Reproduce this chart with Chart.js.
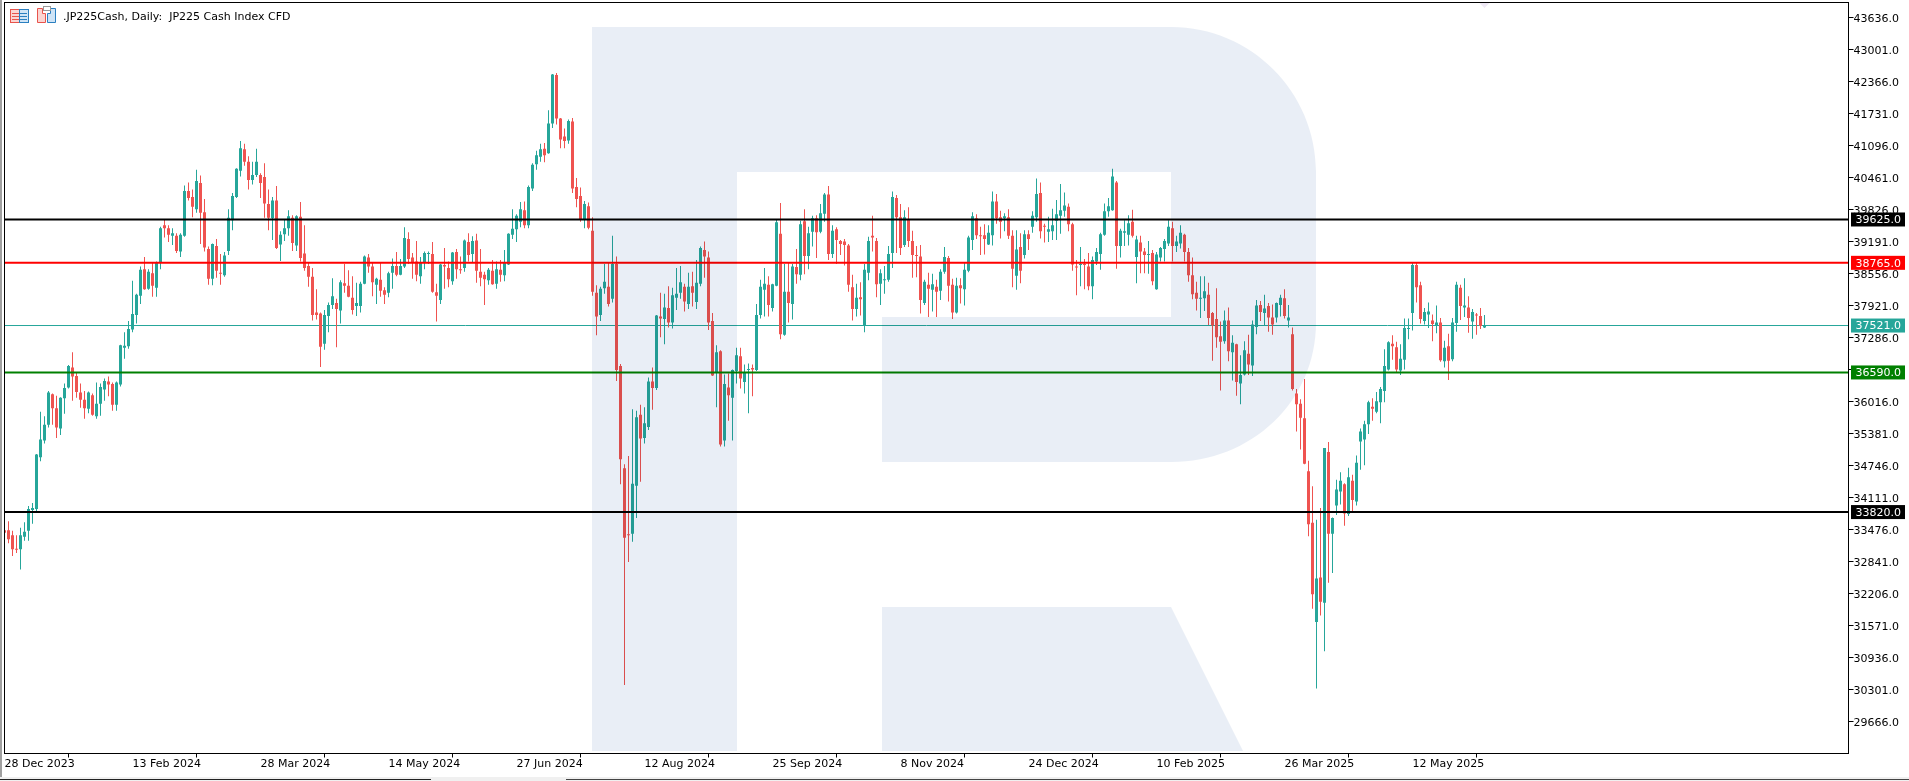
<!DOCTYPE html>
<html>
<head>
<meta charset="utf-8">
<title>JP225 Cash Index CFD</title>
<script src="https://cdn.jsdelivr.net/npm/chart.js@4"></script>
<style>
  html, body { margin: 0; padding: 0; background: #fff; overflow: hidden; }
  #wrap { position: relative; width: 1909px; height: 781px; }
  #chart { position: absolute; left: 0; top: 0; }
  #title { position: absolute; left: 63px; top: 10px; font: 11px "DejaVu Sans"; color: #000; white-space: pre; }
  #icons { position: absolute; left: 0; top: 0; }
  .edge { position: absolute; }
</style>
</head>
<body>
<div id="wrap">
  <canvas id="chart" width="1909" height="781"></canvas>
  <svg id="icons" width="70" height="30">
    <rect x="10.5" y="9.5" width="9" height="13" fill="#fbd5d2" stroke="#e8544c"/>
    <rect x="19.5" y="9.5" width="9" height="13" fill="#cfe4f6" stroke="#2a7fc0"/>
    <path d="M12 13.5h7M12 16.5h7M12 19.5h7" stroke="#e8544c"/>
    <path d="M20 13.5h7M20 16.5h7M20 19.5h7" stroke="#2a7fc0"/>
    <path d="M37.5 8.5h5v5h3v9h-8z" fill="#fbd5d2" stroke="#e8544c"/>
    <path d="M47.5 13.5h3v-5h5v14h-8z" fill="#cfe4f6" stroke="#2a7fc0"/>
    <rect x="43.5" y="6.5" width="7" height="4" fill="#fff" stroke="#999"/>
  </svg>
  <div id="title">.JP225Cash, Daily:  JP225 Cash Index CFD</div>
  <div class="edge" style="left:0;top:0;width:2px;height:781px;background:#a0a0a0"></div>
  <div class="edge" style="left:0;top:777px;width:1909px;height:4px;background:#f0f0f0"></div>
  <div class="edge" style="left:0;top:779px;width:431px;height:1px;background:#222"></div>
  <div class="edge" style="left:566px;top:779px;width:1343px;height:1px;background:#444"></div>
</div>
<script>
// JP225 daily candles
const highs = [
  33600,33640,33450,33360,33510,33620,33940,34000,34970,35810,
  35720,36220,36170,36130,36100,36370,36740,36990,36590,36370,
  36220,36210,36170,36390,36370,36470,36510,36390,36410,37140,
  37390,37610,38410,38150,38690,38880,38640,38770,38790,39480,
  39620,39510,39450,39350,39350,40300,40360,40220,40610,40500,
  40030,39090,39150,39240,38940,38980,39830,40150,40640,41180,
  41130,40880,40770,41030,40540,40740,40220,40070,40290,39390,
  39630,39810,39710,39710,39970,39510,38770,38660,38240,37780,
  37830,37980,38460,38050,38420,38740,38620,38500,38370,38390,
  38910,38940,38770,38470,38770,38280,38590,38850,38980,38840,
  39470,39370,38960,39200,38880,38990,38990,39180,38350,38740,
  39060,38790,38980,39040,38890,39230,39350,39290,39340,39040,
  38590,38660,38820,38790,38820,39020,39350,39830,39730,39970,
  39980,40300,40740,40990,41130,41140,41790,42510,42530,41640,
  41430,41610,41640,40450,40260,39990,39960,39670,38320,38290,
  38740,38770,39300,38890,36760,34770,34930,35860,35830,35950,
  35900,36490,36690,37730,38170,38150,38300,38270,38660,38700,
  38350,38570,38590,38820,39090,39190,38990,37770,37130,37030,
  36550,36570,36650,37080,37080,36750,36770,36750,37950,38430,
  38660,38500,38350,39630,39950,38740,38770,38740,39040,39600,
  39830,39480,39700,39710,39930,40150,40290,39510,39470,39220,
  39240,39140,38530,38350,38380,38740,39280,39700,39260,38640,
  38700,39100,40180,40110,39930,39810,39870,39400,39100,39120,
  38430,38570,38550,38430,38640,39080,38900,38450,38470,38460,
  38760,39300,39770,39730,39480,39530,39510,40180,40130,39800,
  39750,39830,39410,39410,39350,39410,39410,39790,40440,40360,
  39540,39680,39840,40010,40330,40160,39940,39560,38820,39080,
  38840,38960,38890,39060,39360,39940,40050,40630,40390,39440,
  39610,39710,39820,39300,39300,39060,39200,39020,38980,39080,
  39240,39610,39580,39300,39510,39340,39060,38870,38390,38500,
  38500,38370,37790,38260,37600,37820,37880,37330,37160,36930,
  37210,37340,37620,38030,38010,38130,37970,37940,37980,38130,
  38240,37930,37480,36260,36060,36460,34840,34330,33670,33900,
  35090,35210,33710,34460,34610,34390,34700,34560,34940,35480,
  35630,36030,36080,36200,36300,37050,37210,37330,37200,37150,
  37660,37660,38760,38760,38390,37870,37980,37740,37920,37670,
  37220,37360,37670,38390,38330,38460,38100,37850,37770,37870,37730
];
const lows = [
  33260,33200,32950,33010,32680,33250,33250,33590,33840,34830,
  35180,35500,35550,35290,35350,35770,36270,36030,36090,35890,
  35670,35780,35730,35670,35730,36030,36120,35830,35830,36310,
  36860,37060,37390,37560,37950,38230,38230,38090,38090,38640,
  39270,39180,39120,38960,38880,39280,40000,39670,39760,39140,
  38990,38330,38320,38470,38330,38490,38920,39410,40050,40480,
  40690,40220,40320,40470,40050,39660,39410,39220,39040,38800,
  39200,39300,39000,39000,38790,38610,38290,37620,37640,36700,
  37040,37390,37850,37090,37560,38170,38080,37740,37710,37780,
  38340,38570,38100,37950,38090,37950,38080,38250,38500,38520,
  38660,38740,38450,38400,38350,38640,38740,38170,37600,37950,
  38250,38280,38330,38450,38550,38590,38790,38770,38370,38300,
  37930,38330,38330,38250,38390,38400,38720,39240,39180,39470,
  39450,39450,40190,40610,40770,40760,40930,41440,41510,41040,
  41040,41130,40150,39870,39580,39450,39430,38110,37330,37610,
  38150,37900,37980,36420,34370,30390,32830,33230,33700,34420,
  35180,35450,35850,36240,37290,37150,37480,37460,37830,38050,
  37800,37850,37900,37850,38300,38470,37430,36520,35900,35120,
  35120,35630,35240,36370,36270,36170,35780,36120,36620,37660,
  37700,37700,37800,38300,37250,37320,37580,37640,38350,38420,
  38540,38640,39090,38860,39350,39580,38820,38860,38740,38920,
  38710,38190,37620,37700,37720,37390,38420,38990,38080,37930,
  38150,38390,38660,38960,38920,39080,39080,38470,38480,37760,
  37930,37690,37800,37690,38030,38550,38000,37650,37760,37960,
  37920,38580,39020,39240,38920,38930,39120,39110,39540,39250,
  39390,39240,38280,38230,38360,38850,39020,39360,39580,39250,
  39170,39180,39220,39220,39340,39680,39390,38610,38120,38300,
  38240,38220,38040,38720,38630,39300,39680,39800,38650,38870,
  39100,39110,39270,38360,38560,38560,38550,38320,38230,38790,
  38790,39100,38790,38980,39050,38790,38390,38040,37820,37670,
  37810,37530,36820,37080,36230,37160,36810,36430,36130,35960,
  36530,36540,36520,37350,37610,37530,37400,37340,37580,37700,
  37660,37480,36230,35420,35060,34770,33340,31900,30320,31770,
  31060,32420,32610,33760,33970,33550,33740,33820,33950,34660,
  34750,35370,35630,35780,35580,36000,36630,36840,36600,36540,
  36650,37250,37420,37980,37560,37540,37470,37210,37370,36800,
  36690,36440,36810,37400,37630,37690,37380,37260,37340,37450,37470
];
const opens = [
  33460,33460,33360,33090,33080,33330,33450,33860,33880,34910,
  35240,35550,36160,35880,35480,36080,36290,36690,36520,36190,
  36050,35870,36140,35720,35970,36250,36410,36360,35950,36350,
  37080,37110,37440,37730,38110,38640,38250,38560,38270,38780,
  39510,39450,39300,39300,38990,39300,40190,40070,39830,40350,
  39770,39040,38450,39100,38560,38520,39000,39610,40070,40590,
  41020,40770,40410,40510,40510,40470,39930,39650,40000,39130,
  39330,39450,39660,39110,39680,38950,38700,38490,37780,37760,
  37160,37710,37930,37970,37820,38360,38310,38070,37910,37910,
  38350,38870,38690,38330,38430,38220,38170,38570,38700,38530,
  38690,39240,38870,38790,38500,38770,38940,38940,38180,38030,
  38720,38660,38400,38980,38640,38660,39180,38940,39210,38590,
  38530,38420,38610,38350,38630,38520,38730,39320,39430,39580,
  39810,39510,40240,40720,40870,41030,40940,41530,42490,41630,
  41270,41190,41570,40270,40090,39630,39890,39400,38170,37730,
  38260,38290,38050,38740,36720,34690,33380,33390,34340,35750,
  35290,35510,36410,36280,37700,37650,37870,37580,38070,38170,
  38290,37950,38300,37990,38350,39020,38870,37610,36590,37010,
  35240,36290,36090,36620,36910,36400,36640,36680,36640,37730,
  38230,38330,37870,38310,39340,37340,38190,37950,38680,38530,
  39590,38900,39380,39650,39380,39740,40120,38940,39430,39200,
  39190,39110,38280,37850,38080,37520,38570,39300,39200,38350,
  38420,38430,38960,40050,39670,39120,39630,39200,38920,38890,
  37970,38330,38230,38290,38210,38590,38860,38330,37780,38320,
  38240,38610,39220,39650,39300,39310,39130,39310,39980,39670,
  39650,39670,39300,38510,39080,38920,39330,39480,39670,40150,
  39500,39380,39390,39600,39700,39800,39880,39530,38690,38720,
  38730,38690,38300,38790,38940,39320,39790,39810,40360,39100,
  39360,39320,39580,38880,39170,38990,38920,38960,38240,38870,
  39040,39150,39450,39100,39150,39320,38980,38520,38170,38050,
  38060,38130,37770,37650,37310,37210,37620,36990,37150,36370,
  36550,36960,36730,37490,37930,37770,37910,37680,37680,37930,
  38060,37620,37350,36170,35970,35680,34630,33610,31640,32520,
  32020,35010,33390,33950,34230,34370,33780,34440,34030,35220,
  35260,35560,35910,35810,36000,36220,36650,37160,37090,36630,
  36840,37450,37770,38720,38320,37610,37740,37620,37510,37580,
  36810,37110,36850,37570,38270,37880,37880,37600,37740,37710,37480
];
const closes = [
  33410,33280,33080,33070,33360,33430,33880,33900,34960,35260,
  35550,36190,35880,35500,36090,36280,36720,36510,36200,36050,
  35880,36190,35750,35970,36300,36420,36350,35950,36390,37130,
  37120,37450,37750,38130,38630,38240,38590,38310,38760,39450,
  39450,39320,39350,39000,39320,40190,40050,39880,40390,39760,
  39070,38450,39140,38610,38550,38910,39660,40090,40630,41040,
  40770,40410,40510,40770,40350,39940,39660,40000,39060,39320,
  39450,39690,39160,39690,38860,38660,38490,37730,37730,37100,
  37730,37930,38100,37850,38380,38310,38090,37830,37970,38350,
  38890,38690,38380,38450,38210,38130,38560,38700,38530,38700,
  39260,38840,38770,38530,38770,38960,38960,38190,38110,38730,
  38690,38440,38970,38640,38620,39210,38920,39200,38610,38470,
  38440,38630,38340,38640,38530,38770,39340,39440,39700,39830,
  39510,40270,40710,40900,41020,40900,41530,42500,41630,41210,
  41180,41580,40240,40030,39630,39930,39460,38190,37700,38250,
  38390,37950,38740,36640,34870,33310,33360,34380,35700,35280,
  35580,36410,36280,37720,37660,37880,37580,38120,38150,38380,
  38000,38290,38170,38370,39060,38890,37580,36530,36990,35160,
  36360,36140,36640,36930,36470,36590,36660,36650,37730,38290,
  38350,37930,38340,39570,37350,38190,37970,38690,38540,39530,
  38900,39350,39650,39370,39750,40120,38940,39400,39220,39140,
  39120,38330,37850,38070,38040,38630,39200,39270,38340,38560,
  38440,38940,40070,39670,39060,39670,39200,38920,38900,38030,
  38390,38250,38340,38190,38590,38880,38310,37780,38310,38260,
  38630,39270,39690,39310,39290,39240,39360,39980,39650,39580,
  39690,39300,38650,39030,38610,39330,39240,39700,40130,39390,
  39480,39430,39510,39730,39810,39900,39530,38730,38670,38730,
  38720,38300,38820,38980,39330,39790,39890,40480,39100,39400,
  39390,39550,39300,39230,38990,38920,38930,38400,38930,39060,
  39200,39480,39100,39190,39360,38980,38520,38140,38050,38070,
  38200,37670,37520,37290,37200,37620,37010,37180,36400,36540,
  37030,36750,37540,37920,37790,37860,37680,37540,37970,38070,
  37710,37680,36260,35960,35690,34780,33580,32190,32500,32040,
  35090,33390,33700,34270,34440,33790,34510,34060,34800,35420,
  35560,36000,35870,36020,36260,36720,37190,37110,36650,36860,
  37470,37470,38720,38280,37650,37790,37800,37550,37580,36830,
  37080,36820,37580,38330,37910,37920,37670,37790,37720,37510,37510
];

const dateLabels = ['28 Dec 2023','13 Feb 2024','28 Mar 2024','14 May 2024','27 Jun 2024','12 Aug 2024',
  '25 Sep 2024','8 Nov 2024','24 Dec 2024','10 Feb 2025','26 Mar 2025','12 May 2025'];
const priceTicks = [43636,43001,42366,41731,41096,40461,39826,39191,38556,37921,37286,36651,36016,
  35381,34746,34111,33476,32841,32206,31571,30936,30301,29666];

const levelValues = [39625, 38765, 36590, 33820, 37521];
const levelColors = ['#000000', '#ff0000', '#008000', '#000000', '#26a69a'];
const levelWidths = [2, 2, 2, 2, 1];

const UP = '#26a69a';
const DOWN = '#ef5350';
const FONT = { family: 'DejaVu Sans', size: 11 };
const candleColors = closes.map((c, i) => c >= opens[i] ? UP : DOWN);

const datasets = [
  {
    type: 'bar', label: 'wick', order: 3, barThickness: 1, grouped: false, inflateAmount: 0,
    data: highs.map((h, i) => ({ x: i, y: [lows[i], h] })),
    backgroundColor: candleColors
  },
  {
    type: 'bar', label: 'body', order: 2, barThickness: 3, grouped: false, inflateAmount: 0, minBarLength: 1,
    data: opens.map((o, i) => ({ x: i, y: [o, closes[i]] })),
    backgroundColor: candleColors
  }
];
levelValues.forEach((v, i) => {
  datasets.push({
    type: 'line', label: 'level ' + v,
    order: levelWidths[i] === 1 ? 4 : 1,
    data: [{ x: 0, y: v }, { x: 461, y: v }],
    borderColor: levelColors[i], borderWidth: levelWidths[i], pointRadius: 0
  });
});

// stops chart.js from pushing the plot in for half a tick label
function noAxisPadding(axis) {
  axis.paddingTop = 0;
  axis.paddingBottom = 0;
  axis.paddingLeft = 0;
  axis.paddingRight = 0;
}

// white page plus the faint R logo, the frame and the price boxes
const decorPlugin = {
  id: 'decor',
  beforeDraw(chart) {
    const ctx = chart.ctx;
    ctx.save();
    ctx.fillStyle = '#ffffff';
    ctx.fillRect(0, 0, chart.width, chart.height);
    ctx.restore();
  },
  afterDatasetsDraw(chart) {
    const ctx = chart.ctx;
    ctx.save();
    ctx.globalCompositeOperation = 'multiply';
    ctx.fillStyle = '#e9eef6';
    ctx.beginPath();
    ctx.moveTo(592, 27);
    ctx.lineTo(1171, 27);
    ctx.bezierCurveTo(1251, 27, 1316, 92, 1316, 172);
    ctx.lineTo(1316, 322);
    ctx.bezierCurveTo(1316, 402, 1251, 462, 1171, 462);
    ctx.lineTo(882, 462);
    ctx.lineTo(882, 317);
    ctx.lineTo(1171, 317);
    ctx.lineTo(1171, 172);
    ctx.lineTo(737, 172);
    ctx.lineTo(737, 751);
    ctx.lineTo(592, 751);
    ctx.closePath();
    ctx.moveTo(882, 607);
    ctx.lineTo(1171, 607);
    ctx.lineTo(1243, 751);
    ctx.lineTo(882, 751);
    ctx.closePath();
    ctx.fill();
    ctx.restore();
  },
  afterDraw(chart) {
    const ctx = chart.ctx;
    const area = chart.chartArea;
    const yScale = chart.scales.y;
    const xScale = chart.scales.x;
    ctx.save();
    ctx.strokeStyle = '#000';
    ctx.lineWidth = 1;
    ctx.strokeRect(area.left, area.top, area.right - area.left, area.bottom - area.top);

    // small marker above the last candle
    const lastX = xScale.getPixelForValue(highs.length - 1);
    ctx.fillStyle = '#efe9f5';
    ctx.beginPath();
    ctx.moveTo(lastX - 5, 3);
    ctx.lineTo(lastX + 5, 3);
    ctx.lineTo(lastX, 8);
    ctx.closePath();
    ctx.fill();

    ctx.font = '11px "DejaVu Sans"';
    ctx.textBaseline = 'middle';
    ctx.textAlign = 'left';
    levelValues.forEach((v, i) => {
      const y = yScale.getPixelForValue(v);
      ctx.fillStyle = levelColors[i];
      ctx.fillRect(area.right + 2.5, y - 7, 54, 14);
      ctx.fillStyle = '#fff';
      ctx.fillText(v.toFixed(1), area.right + 7, y + 1);
    });
    ctx.restore();
  }
};

new Chart(document.getElementById('chart'), {
  data: { datasets },
  options: {
    responsive: false,
    animation: false,
    layout: { padding: { left: 4.5, top: 2.5, right: 0, bottom: 0 } },
    plugins: { legend: { display: false }, tooltip: { enabled: false } },
    scales: {
      x: {
        type: 'linear', min: 0, max: 461, offset: false,
        border: { display: false },
        grid: { drawOnChartArea: false, drawTicks: true, tickLength: 4, color: '#000' },
        afterBuildTicks: axis => { axis.ticks = dateLabels.map((l, i) => ({ value: i * 32 })); },
        afterFit: axis => { axis.height = 27.5; noAxisPadding(axis); },
        ticks: {
          autoSkip: false, maxRotation: 0, minRotation: 0, align: 'start', padding: 0,
          color: '#000', font: FONT,
          callback: value => dateLabels[value / 32]
        }
      },
      y: {
        type: 'linear', position: 'right', min: 29030, max: 43930,
        border: { display: false },
        grid: { drawOnChartArea: false, drawTicks: true, tickLength: 5, color: '#000' },
        afterBuildTicks: axis => { axis.ticks = priceTicks.map(v => ({ value: v })); },
        afterFit: axis => { axis.width = 60.5; noAxisPadding(axis); },
        ticks: {
          autoSkip: false, padding: 0, labelOffset: 1.5, color: '#000', font: FONT,
          callback: value => value.toFixed(1)
        }
      }
    }
  },
  plugins: [decorPlugin]
});
</script>
</body>
</html>
